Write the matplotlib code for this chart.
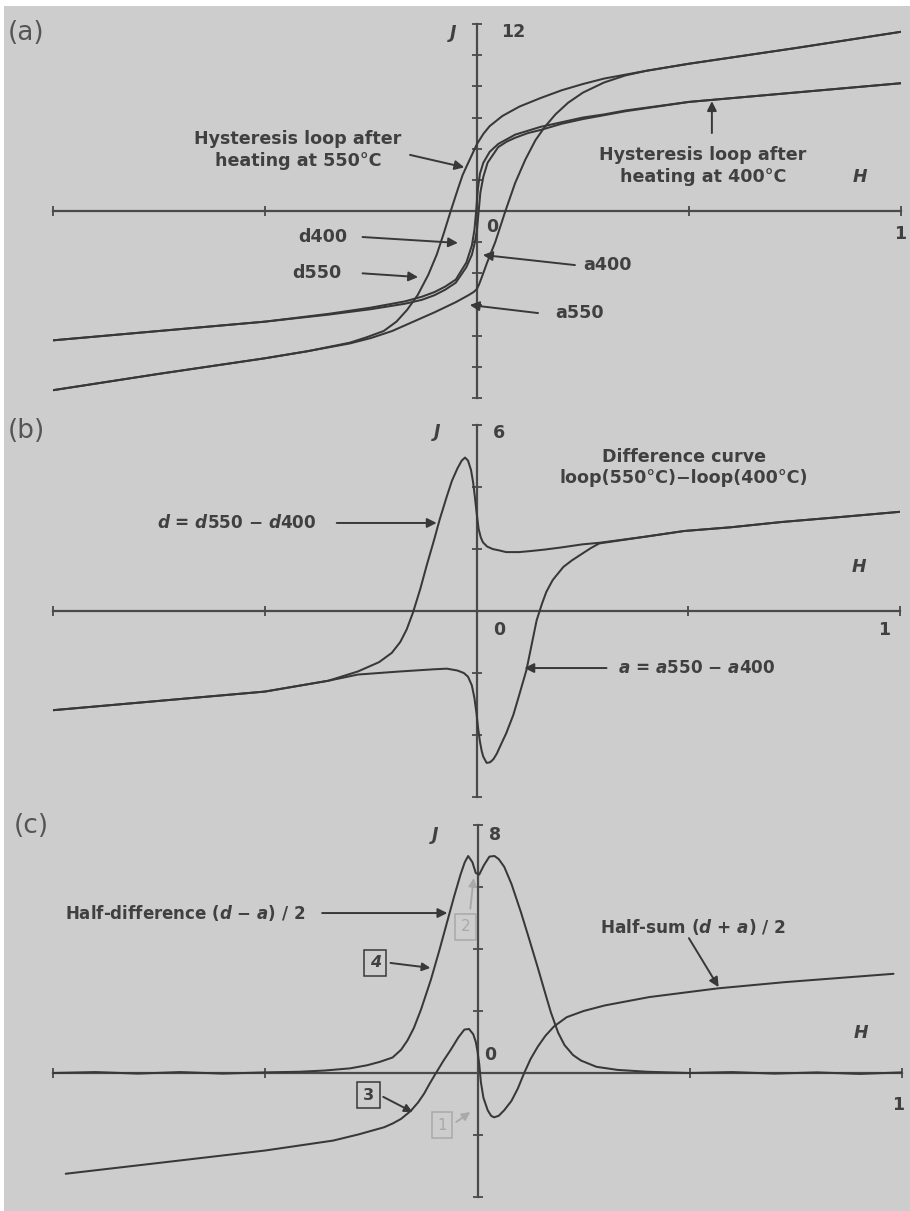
import matplotlib
matplotlib.use("Agg")
import matplotlib.pyplot as plt
from matplotlib.patches import Rectangle

plt.rcParams['font.family'] = ['DejaVu Sans']
plt.rcParams['mathtext.fontset'] = 'custom'
plt.rcParams['mathtext.it'] = 'DejaVu Sans:italic:bold'
plt.rcParams['mathtext.rm'] = 'DejaVu Sans:bold'
plt.rcParams['mathtext.bf'] = 'DejaVu Sans:bold'

# ---------------- data ----------------
# (a) hysteresis loops, descending (d) and ascending (a) branches
loop550_d_H = [1.0, 0.75, 0.5, 0.4, 0.3, 0.25, 0.2, 0.15, 0.1, 0.06, 0.03, 0.015, 0.0, -0.012,
               -0.024, -0.034, -0.044, -0.062, -0.078, -0.095, -0.115, -0.14, -0.165, -0.19,
               -0.22, -0.26, -0.3, -0.4, -0.5, -0.75, -1.0]
loop550_d_J = [11.5, 10.45, 9.45, 9.0, 8.5, 8.15, 7.75, 7.25, 6.7, 6.1, 5.45, 4.95, 4.3, 3.6,
               2.9, 2.3, 1.5, 0.0, -1.4, -2.8, -4.1, -5.4, -6.35, -7.1,
               -7.7, -8.1, -8.45, -9.0, -9.45, -10.45, -11.5]
loop550_a_H = [-1.0, -0.75, -0.5, -0.4, -0.3, -0.25, -0.2, -0.15, -0.1, -0.05, -0.02, -0.008,
               0.0, 0.005, 0.012, 0.024, 0.043, 0.067, 0.09, 0.114, 0.138, 0.16, 0.185, 0.215,
               0.25, 0.3, 0.35, 0.4, 0.5, 0.75, 1.0]
loop550_a_J = [-11.5, -10.45, -9.45, -9.0, -8.5, -8.15, -7.7, -7.1, -6.5, -5.85, -5.4, -5.2,
               -5.0, -4.7, -4.2, -3.3, -2.0, 0.0, 1.8, 3.3, 4.55, 5.4, 6.2, 6.95,
               7.6, 8.25, 8.7, 9.0, 9.45, 10.45, 11.5]
loop400_d_H = [1.0, 0.75, 0.5, 0.35, 0.3, 0.25, 0.2, 0.15, 0.12, 0.09, 0.07, 0.05, 0.03, 0.015,
               0.007, 0.002, -0.002, -0.006, -0.012, -0.025, -0.05, -0.075, -0.1, -0.13, -0.17,
               -0.21, -0.25, -0.35, -0.5, -0.75, -1.0]
loop400_d_J = [8.2, 7.6, 7.0, 6.45, 6.2, 6.0, 5.7, 5.4, 5.15, 4.9, 4.6, 4.3, 3.8, 3.1,
               2.4, 1.4, 0.0, -1.2, -2.2, -3.3, -4.4, -4.85, -5.2, -5.5, -5.8,
               -6.0, -6.2, -6.6, -7.1, -7.7, -8.3]
loop400_a_H = [-1.0, -0.75, -0.5, -0.35, -0.25, -0.17, -0.13, -0.1, -0.075, -0.05, -0.025, -0.012,
               -0.005, 0.0, 0.004, 0.008, 0.015, 0.025, 0.05, 0.07, 0.09, 0.12, 0.15, 0.2, 0.25,
               0.3, 0.35, 0.5, 0.75, 1.0]
loop400_a_J = [-8.3, -7.7, -7.1, -6.65, -6.3, -5.95, -5.7, -5.4, -5.05, -4.6, -3.6, -2.8,
               -2.0, -1.2, 0.0, 1.2, 2.2, 3.1, 4.1, 4.45, 4.7, 5.0, 5.2, 5.6, 5.9,
               6.15, 6.4, 7.0, 7.6, 8.2]

# (b) difference curves d = d550 - d400 and a = a550 - a400
diff_d_H = [-1.0, -0.75, -0.5, -0.35, -0.28, -0.23, -0.2, -0.18, -0.165, -0.15, -0.133, -0.117, -0.1,
            -0.087, -0.07, -0.058, -0.045, -0.035, -0.027, -0.02, -0.013, -0.008, -0.004, 0.0, 0.005,
            0.01, 0.015, 0.025, 0.038, 0.055, 0.07, 0.1, 0.125, 0.16, 0.2, 0.25, 0.29, 0.4, 0.49,
            0.6, 0.72, 0.85, 1.0]
diff_d_J = [-3.2, -2.9, -2.6, -2.25, -1.95, -1.65, -1.35, -1.0, -0.6, -0.05, 0.7, 1.5, 2.3,
            2.95, 3.7, 4.2, 4.6, 4.85, 4.95, 4.85, 4.55, 4.15, 3.7, 3.2, 2.65,
            2.38, 2.22, 2.08, 2.0, 1.95, 1.9, 1.9, 1.93, 1.98, 2.05, 2.15, 2.2, 2.4, 2.58,
            2.7, 2.87, 3.02, 3.2]
diff_a_H = [-1.0, -0.75, -0.5, -0.35, -0.28, -0.18, -0.1, -0.07, -0.045, -0.03, -0.02, -0.011,
            -0.005, 0.0, 0.004, 0.008, 0.012, 0.016, 0.024, 0.032, 0.04, 0.048, 0.058, 0.07,
            0.087, 0.1, 0.118, 0.13, 0.142, 0.155, 0.165, 0.18, 0.205, 0.225, 0.244, 0.27,
            0.29, 0.4, 0.49, 0.6, 0.72, 0.85, 1.0]
diff_a_J = [-3.2, -2.9, -2.6, -2.25, -2.05, -1.95, -1.88, -1.86, -1.92, -2.0, -2.12, -2.4,
            -2.8, -3.3, -3.8, -4.2, -4.5, -4.7, -4.9, -4.88, -4.78, -4.6, -4.3, -3.95,
            -3.35, -2.75, -1.9, -1.1, -0.3, 0.25, 0.62, 1.0, 1.42, 1.63, 1.8, 2.03,
            2.18, 2.4, 2.58, 2.7, 2.87, 3.02, 3.2]

# (c) half-difference (d - a)/2 and half-sum (d + a)/2
half_diff_H = [-1.0, -0.9, -0.8, -0.7, -0.6, -0.5, -0.42, -0.36, -0.3, -0.26, -0.23, -0.2, -0.18,
               -0.165, -0.15, -0.133, -0.11, -0.09, -0.07, -0.055, -0.04, -0.03, -0.022, -0.012,
               -0.004, 0.004, 0.015, 0.028, 0.04, 0.05, 0.063, 0.08, 0.102, 0.12, 0.142, 0.16,
               0.173, 0.19, 0.205, 0.225, 0.244, 0.28, 0.33, 0.4, 0.5, 0.6, 0.7, 0.8, 0.9, 1.0]
half_diff_J = [0.0, 0.03, -0.02, 0.03, -0.02, 0.02, 0.04, 0.08, 0.15, 0.25, 0.36, 0.5, 0.75,
               1.05, 1.45, 2.05, 3.0, 3.95, 4.95, 5.7, 6.4, 6.8, 7.0, 6.8,
               6.45, 6.4, 6.7, 6.98, 7.0, 6.9, 6.65, 6.1, 5.2, 4.4, 3.4, 2.55,
               1.95, 1.3, 0.9, 0.58, 0.4, 0.2, 0.1, 0.04, 0.0, 0.03, -0.02, 0.02, -0.03, 0.02]
half_sum_H = [-0.97, -0.75, -0.5, -0.34, -0.28, -0.22, -0.2, -0.18, -0.157, -0.14, -0.126, -0.113,
              -0.1, -0.08, -0.063, -0.045, -0.031, -0.02, -0.01, -0.004, 0.0, 0.004, 0.008, 0.014,
              0.024, 0.032, 0.039, 0.05, 0.063, 0.08, 0.095, 0.11, 0.125, 0.142, 0.16, 0.18, 0.21,
              0.25, 0.3, 0.405, 0.566, 0.723, 0.98]
half_sum_J = [-3.25, -2.9, -2.5, -2.18, -1.98, -1.75, -1.63, -1.48, -1.22, -0.95, -0.67, -0.35,
              -0.05, 0.4, 0.75, 1.15, 1.4, 1.42, 1.25, 1.0, 0.7, 0.3, -0.3, -0.8,
              -1.2, -1.38, -1.43, -1.38, -1.2, -0.9, -0.5, 0.0, 0.45, 0.85, 1.2, 1.5, 1.8,
              2.0, 2.18, 2.45, 2.73, 2.93, 3.2]

H_ticks = [-1.0, -0.5, 0.5, 1.0]
panel_letters = ['(a)', '(b)', '(c)']
J_top_labels = ['12', '6', '8']

# ---------------- styling ----------------
W, HPX = 910, 1211
LINE = '#383838'
AXIS = '#4a4a4a'
TXT = '#404040'
FAINT = '#a9a9a9'
FS = 12.6

fig = plt.figure(figsize=(W / 100, HPX / 100), dpi=100)
fig.patch.set_facecolor('white')
fig.patches.append(Rectangle((4 / W, 0), (W - 4) / W, (HPX - 6) / HPX, transform=fig.transFigure,
                             facecolor='#cdcdcd', edgecolor='none', zorder=-10))


def px_axes(x0, x1, ytop, ybot):
    return fig.add_axes([x0 / W, 1 - ybot / HPX, (x1 - x0) / W, (ybot - ytop) / HPX])


def style(ax, ylo, yhi):
    ax.set_xlim(-1, 1)
    ax.set_ylim(ylo, yhi)
    ax.patch.set_visible(False)
    for s in ('top', 'right'):
        ax.spines[s].set_visible(False)
    for s in ('left', 'bottom'):
        ax.spines[s].set_position(('data', 0))
        ax.spines[s].set_color(AXIS)
        ax.spines[s].set_linewidth(1.6)
    ax.set_xticks(H_ticks)
    ax.set_yticks([v for v in range(ylo, yhi + 1, 2) if v != 0])
    ax.tick_params(direction='inout', length=7, width=1.3, color=AXIS,
                   labelbottom=False, labelleft=False)


def curve(ax, h, j):
    ax.plot(h, j, color=LINE, lw=1.45, solid_joinstyle='round', solid_capstyle='round', zorder=3)


def label(ax, x, y, s, ha='center', **kw):
    kw.setdefault('fontsize', FS)
    kw.setdefault('fontweight', 'bold')
    kw.setdefault('color', TXT)
    ax.text(x, y, s, ha=ha, va='center', **kw)


def arrow(ax, start, tip, color=LINE, lw=1.4, ms=14):
    ax.annotate('', xy=tip, xytext=start,
                arrowprops=dict(arrowstyle='-|>', color=color, lw=lw, mutation_scale=ms,
                                shrinkA=0, shrinkB=0))


def axis_names(ax, jpos, toplabel, tpos, zpos, onepos, hpos):
    label(ax, *jpos, 'J', fontstyle='italic', fontsize=12.5)
    label(ax, *tpos, toplabel, fontsize=12.5)
    label(ax, *zpos, '0', fontsize=12.5)
    label(ax, *onepos, '1', fontsize=12.5)
    label(ax, *hpos, 'H', fontstyle='italic', fontsize=12.5)


for i, (letter, ypx) in enumerate(zip(panel_letters, [33, 431, 826])):
    fig.text((8 if i < 2 else 14) / W, 1 - ypx / HPX, letter, fontsize=19, color='#555555',
             ha='left', va='center')

# ---------- panel (a) ----------
axa = px_axes(53, 901, 24, 398)
style(axa, -12, 12)
curve(axa, loop550_d_H, loop550_d_J)
curve(axa, loop550_a_H, loop550_a_J)
curve(axa, loop400_d_H, loop400_d_J)
curve(axa, loop400_a_H, loop400_a_J)
axis_names(axa, (-0.057, 11.4), J_top_labels[0], (0.085, 11.5), (0.035, -1.0), (0.998, -1.5), (0.903, 2.2))

label(axa, -0.422, 3.9, 'Hysteresis loop after\nheating at 550\u00b0C', linespacing=1.3)
arrow(axa, (-0.158, 3.6), (-0.03, 2.8))
label(axa, 0.533, 2.9, 'Hysteresis loop after\nheating at 400\u00b0C', linespacing=1.3)
arrow(axa, (0.554, 5.0), (0.554, 7.05))
label(axa, -0.363, -1.67, 'd400')
arrow(axa, (-0.27, -1.67), (-0.045, -2.05))
label(axa, -0.377, -4.0, 'd550')
arrow(axa, (-0.27, -4.0), (-0.139, -4.24))
label(axa, 0.307, -3.47, 'a400')
arrow(axa, (0.231, -3.47), (0.014, -2.82))
label(axa, 0.243, -6.55, 'a550')
arrow(axa, (0.144, -6.55), (-0.017, -6.03))

# ---------- panel (b) ----------
axb = px_axes(53, 900, 425, 797)
style(axb, -6, 6)
curve(axb, diff_d_H, diff_d_J)
curve(axb, diff_a_H, diff_a_J)
axis_names(axb, (-0.094, 5.77), J_top_labels[1], (0.054, 5.74), (0.054, -0.61), (0.962, -0.61), (0.903, 1.42))

label(axb, 0.49, 4.63, 'Difference curve\nloop(550\u00b0C)\u2212loop(400\u00b0C)', linespacing=1.25)
label(axb, -0.566, 2.84, '$d$ = $d$550 \u2212 $d$400', fontsize=12.2)
arrow(axb, (-0.33, 2.84), (-0.094, 2.84))
label(axb, 0.519, -1.84, '$a$ = $a$550 \u2212 $a$400', fontsize=12.2)
arrow(axb, (0.307, -1.84), (0.113, -1.84))

# ---------- panel (c) ----------
axc = px_axes(53, 902, 825, 1197)
style(axc, -4, 8)
curve(axc, half_diff_H, half_diff_J)
curve(axc, half_sum_H, half_sum_J)
axis_names(axc, (-0.099, 7.68), J_top_labels[2], (0.042, 7.68), (0.031, 0.58), (0.991, -1.03), (0.903, 1.29))

label(axc, -0.972, 5.16, 'Half-difference ($d$ \u2212 $a$) / 2', ha='left', fontsize=12.0)
arrow(axc, (-0.366, 5.16), (-0.071, 5.16))
label(axc, 0.507, 4.71, 'Half-sum ($d$ + $a$) / 2', fontsize=12.2)
arrow(axc, (0.498, 4.35), (0.568, 2.77))

box = dict(boxstyle='square,pad=0.35', fc='none', lw=1.1)
label(axc, -0.241, 3.55, '4', fontsize=11.5, fontstyle='italic', bbox=dict(box, ec=LINE))
arrow(axc, (-0.205, 3.55), (-0.111, 3.39), ms=12)
label(axc, -0.257, -0.71, '3', fontsize=11.5, bbox=dict(box, ec=LINE))
arrow(axc, (-0.222, -0.77), (-0.153, -1.26), ms=12)
label(axc, -0.028, 4.71, '2', fontsize=11, color=FAINT, fontweight='normal', bbox=dict(box, ec=FAINT))
arrow(axc, (-0.017, 5.3), (-0.009, 6.29), color=FAINT, ms=12)
label(axc, -0.083, -1.68, '1', fontsize=11, color=FAINT, fontweight='normal', bbox=dict(box, ec=FAINT))
arrow(axc, (-0.05, -1.58), (-0.017, -1.26), color=FAINT, ms=12)

fig.savefig('out.png', dpi=100)
